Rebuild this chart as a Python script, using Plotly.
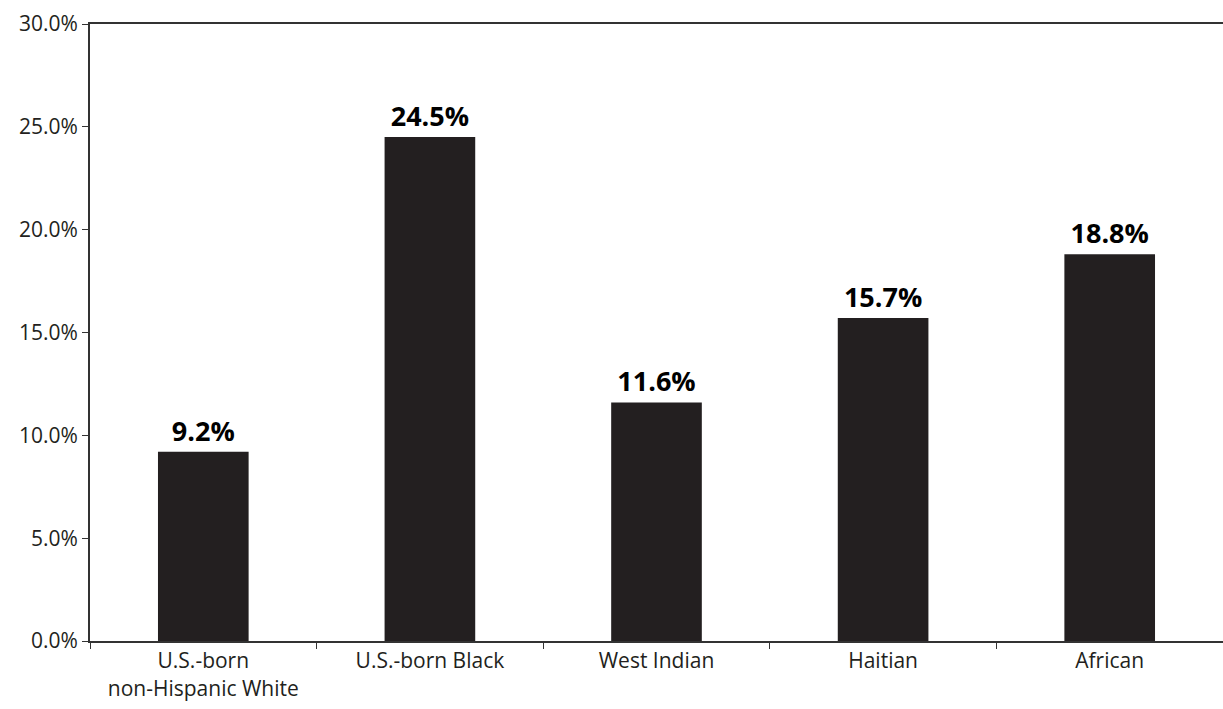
import plotly.graph_objects as go

categories = ["U.S.-born<br>non-Hispanic White", "U.S.-born Black", "West Indian", "Haitian", "African"]
values = [9.2, 24.5, 11.6, 15.7, 18.8]
labels = ["9.2%", "24.5%", "11.6%", "15.7%", "18.8%"]
y_ticks = [0, 5, 10, 15, 20, 25, 30]

fig = go.Figure(go.Bar(
    x=categories, y=values, text=labels, textposition="outside",
    marker=dict(color="#231f20", line=dict(width=0)),
    textfont=dict(family="Open Sans, sans-serif", size=27, color="black", weight="bold"),
    cliponaxis=False,
))

fig.update_layout(
    width=1223, height=709,
    margin=dict(l=90, r=0, t=24, b=68),
    paper_bgcolor="white", plot_bgcolor="white",
    bargap=0.6, showlegend=False,
    font=dict(family="Open Sans, sans-serif", size=21, color="#231f20"),
)
fig.update_xaxes(
    showline=True, linecolor="#333333", linewidth=2, mirror=True,
    ticks="outside", tickson="boundaries", ticklen=6, tickcolor="#333333",
    showgrid=False, tickfont=dict(size=21),
)
fig.update_yaxes(
    range=[0, 30], tickvals=y_ticks, ticktext=[f"{v:.1f}%" for v in y_ticks],
    showline=True, linecolor="#333333", linewidth=2,
    ticks="outside", ticklen=6, tickcolor="#333333",
    showgrid=False, zeroline=False, tickfont=dict(size=21),
)

fig.write_html("out.html")
